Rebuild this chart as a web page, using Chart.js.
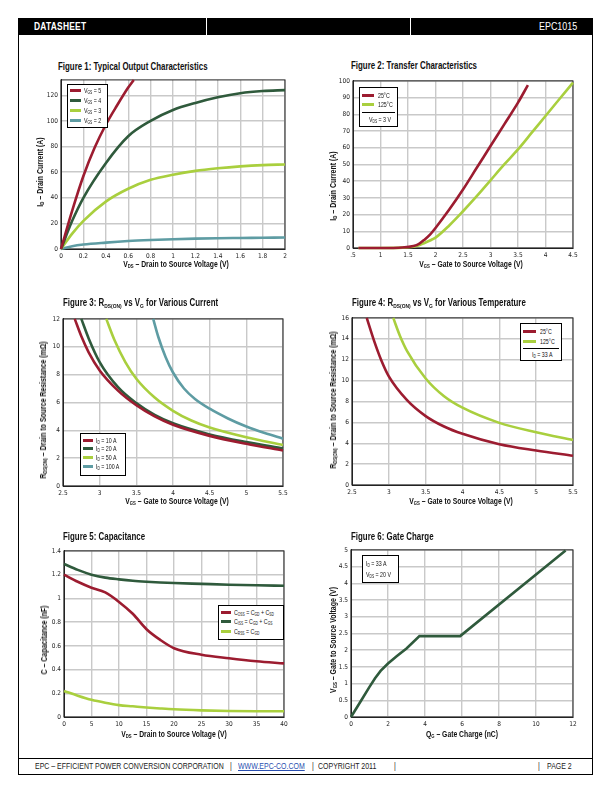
<!DOCTYPE html>
<html><head><meta charset="utf-8">
<script src="https://cdn.jsdelivr.net/npm/chart.js@4.4.1/dist/chart.umd.min.js"></script>
<style>
body{margin:0;width:612px;height:792px;position:relative;background:#fff;font-family:"Liberation Sans",Arial,sans-serif;color:#111;overflow:hidden}
.a{position:absolute}
.ttl{font-weight:bold;font-size:10px;white-space:nowrap;line-height:12px;transform:scaleX(0.79);transform-origin:0 0}
.axt{font-weight:bold;font-size:8.5px;white-space:nowrap;line-height:10px}
.axy{transform:translate(-50%,-50%) rotate(-90deg) scaleX(0.82)}
.axx{transform:translate(-50%,-50%) scaleX(0.8)}
sub{font-size:0.62em;vertical-align:-0.25em;line-height:0}
.lg{position:absolute;border:1px solid #000;background:#fff;box-sizing:border-box;font-size:8px;white-space:nowrap}
.row{position:absolute;display:flex;align-items:center;height:9px;line-height:9px}
.sw{display:inline-block;height:3px;flex:none}
.lt{display:inline-block;transform:scaleX(0.66);transform-origin:0 50%}
.sep{position:absolute;height:0;border-top:1px solid #000}
.foot{font-size:9.2px;white-space:nowrap;line-height:10px;color:#222;transform:scaleX(0.76);transform-origin:0 0}
</style></head>
<body>
<div class="a" style="left:18px;top:18px;width:575px;height:17px;background:#000"></div>
<div class="a" style="left:206px;top:18px;width:1px;height:17px;background:#fff"></div>
<div class="a" style="left:410px;top:18px;width:1px;height:17px;background:#fff"></div>
<div class="a" style="left:34px;top:20px;color:#fff;font-weight:bold;font-size:10.5px;line-height:13px;letter-spacing:0.3px;transform:scaleX(0.8);transform-origin:0 0">DATASHEET</div>
<div class="a" style="left:539px;top:20px;color:#fff;font-size:10.5px;line-height:13px;transform:scaleX(0.85);transform-origin:0 0">EPC1015</div>
<div class="a" style="left:18px;top:35px;width:1px;height:740px;background:#000"></div>
<div class="a" style="left:592px;top:35px;width:1px;height:740px;background:#000"></div>
<div class="a" style="left:18px;top:758px;width:575px;height:1px;background:#000"></div>
<div class="a" style="left:18px;top:774px;width:575px;height:1px;background:#000"></div>
<div class="a foot" style="left:35px;top:761px">EPC – EFFICIENT POWER CONVERSION CORPORATION</div>
<div class="a foot" style="left:230px;top:761px">|</div>
<div class="a foot" style="left:238px;top:761px;color:#2a4fb0;text-decoration:underline">WWW.EPC-CO.COM</div>
<div class="a foot" style="left:312px;top:761px">|</div>
<div class="a foot" style="left:318px;top:761px">COPYRIGHT 2011</div>
<div class="a foot" style="left:394px;top:761px">|</div>
<div class="a foot" style="left:538px;top:761px">|</div>
<div class="a foot" style="left:547px;top:761px">PAGE 2</div>

<script>
// ---------- DATA ----------
// Figure 1: Typical Output Characteristics
const fig1Names = ['V<sub>GS</sub> = 5','V<sub>GS</sub> = 4','V<sub>GS</sub> = 3','V<sub>GS</sub> = 2'];
const fig1VdsShort = [0,0.1,0.2,0.3,0.4,0.5,0.6,0.65];
const fig1Vgs5 = [0,30,57,79,97,112,126,132];
const fig1Vds = [0,0.1,0.2,0.4,0.6,0.8,1.0,1.2,1.4,1.6,1.8,2.0];
const fig1Vgs4 = [0,22,40,67,88,100,108.5,114,118.4,121.6,123.3,124];
const fig1Vgs3 = [0,12,22,37,47,54,58,61,63,64.5,65.5,66];
const fig1Vgs2 = [0,2.2,3.5,5,6.2,7,7.6,8.1,8.4,8.6,8.8,9];

// Figure 2: Transfer Characteristics
const fig2Names = ['25°C','125°C'];
const fig2Vgs25 = [0.6,1.0,1.4,1.6,1.7,1.8,1.9,2.0,2.25,2.5,2.75,3.0,3.25,3.5,3.68];
const fig2Id25 = [0,0,0.3,1.2,2.5,5,8,12,23,35,48,61,74,87,97.5];
const fig2Vgs125 = [0.6,1.0,1.4,1.6,1.7,1.8,1.9,2.0,2.25,2.5,2.75,3.0,3.25,3.5,3.75,4.0,4.25,4.5];
const fig2Id125 = [0,0,0.2,0.8,1.6,3,4.5,6.2,13.5,22,31,40.5,50,59,69,79,89,99];

// Figure 3: RDS(on) vs VG for various current
const fig3Names = ['I<sub>D</sub> = 10 A','I<sub>D</sub> = 20 A','I<sub>D</sub> = 50 A','I<sub>D</sub> = 100 A'];
const fig3Vg10 = [2.66,2.75,2.85,3.0,3.25,3.5,3.75,4.0,4.5,5.0,5.5];
const fig3R10 = [12,10.75,9.6,8.3,6.85,5.8,5.0,4.4,3.6,3.03,2.55];
const fig3Vg20 = [2.75,2.85,3.0,3.25,3.5,3.75,4.0,4.5,5.0,5.5];
const fig3R20 = [12,10.6,8.9,7.1,5.95,5.1,4.5,3.7,3.15,2.7];
const fig3Vg50 = [3.09,3.2,3.35,3.5,3.75,4.0,4.25,4.5,5.0,5.5];
const fig3R50 = [12,10.5,8.9,7.7,6.35,5.4,4.7,4.2,3.5,2.95];
const fig3Vg100 = [3.73,3.8,3.9,4.0,4.15,4.3,4.5,4.75,5.0,5.25,5.5];
const fig3R100 = [12,10.7,9.25,8.15,7.0,6.25,5.55,4.85,4.27,3.8,3.4];

// Figure 4: RDS(on) vs VG for various temperature
const fig4Names = ['25°C','125°C'];
const fig4Vg25 = [2.7,2.8,2.9,3.0,3.25,3.5,3.75,4.0,4.5,5.0,5.5];
const fig4R25 = [16,13.8,11.9,10.4,8.1,6.6,5.6,4.9,3.9,3.3,2.8];
const fig4Vg125 = [3.06,3.15,3.25,3.5,3.75,4.0,4.5,5.0,5.5];
const fig4R125 = [16,14.3,12.8,10.2,8.5,7.4,5.95,5.05,4.3];

// Figure 5: Capacitance
const fig5Names = ['C<sub>OSS</sub> = C<sub>GD</sub> + C<sub>SD</sub>','C<sub>ISS</sub> = C<sub>GD</sub> + C<sub>GS</sub>','C<sub>RSS</sub> = C<sub>GD</sub>'];
const fig5Vds = [0,2.5,5,7.5,10,12.5,15,17.5,20,25,30,35,40];
const fig5Coss = [1.2,1.14,1.09,1.05,0.97,0.87,0.74,0.65,0.58,0.525,0.495,0.47,0.452];
const fig5Ciss = [1.29,1.24,1.2,1.175,1.16,1.148,1.14,1.134,1.129,1.122,1.115,1.11,1.106];
const fig5Crss = [0.22,0.18,0.145,0.12,0.1,0.09,0.08,0.072,0.065,0.056,0.05,0.048,0.048];

// Figure 6: Gate Charge
const fig6Qg = [0,0.5,1.0,1.3,1.6,2.0,2.5,3.0,3.7,5.9,11.6];
const fig6Vgs = [0,0.45,0.9,1.16,1.38,1.6,1.83,2.05,2.42,2.42,4.98];

// Legend notes
const fig2Note = 'V<sub>DS</sub> = 3 V';
const fig4Note = 'I<sub>D</sub> = 33 A';
const fig6Notes = ['I<sub>D</sub> = 33 A','V<sub>DS</sub> = 20 V'];

// ---------- STYLE ----------
const RED='#9c1c30', DKG='#2f5a3c', LIME='#a9cf3e', TEAL='#5e9ca3';
const FONT = {family:'"DejaVu Sans Condensed","Liberation Sans",sans-serif', size:6.5};

const pts = (xs, ys) => xs.map((x,i)=>({x, y:ys[i]}));
const ds = (xs, ys, color, mono=true) => ({data:pts(xs,ys), borderColor:color, borderWidth:2.6, pointRadius:0, fill:false,
  cubicInterpolationMode: mono?'monotone':'default', tension:0, clip:3});

const framePlugin = {id:'frame', beforeDatasetsDraw(chart){
  const a=chart.chartArea, c=chart.ctx; c.save(); c.strokeStyle='#222'; c.lineWidth=1;
  c.strokeRect(a.left, a.top, a.right-a.left, a.bottom-a.top); c.restore();}};

function axis(o, isX){
  return {type:'linear', min:o.min, max:o.max,
    ticks:{stepSize:o.step, font:FONT, color:'#222', padding:3, maxRotation:0, autoSkip:false,
      callback:o.cb || ((v)=>String(+v.toFixed(2)))},
    afterBuildTicks:(s)=>{ s.ticks = s.ticks.filter(t => Math.abs(t.value/o.step - Math.round(t.value/o.step))<1e-6); },
    grid:{color:'#c9c9c9', lineWidth:1.4, drawTicks:false},
    border:{display:true, color:'#222', width:1},
    afterFit:(s)=>{ if(isX) s.height=16; else s.width=30; }};
}

function makeChart(p, datasets, xo, yo){
  const w = p.R - p.L + 38, h = p.B - p.T + 22;
  const c = document.createElement('canvas');
  c.width=w; c.height=h;
  c.style.cssText = `position:absolute;left:${p.L-30}px;top:${p.T-6}px;width:${w}px;height:${h}px`;
  document.body.appendChild(c);
  new Chart(c, {type:'line', data:{datasets},
    options:{responsive:false, animation:false, devicePixelRatio:1,
      layout:{padding:{top:6,right:8,left:0,bottom:0}},
      plugins:{legend:{display:false}, tooltip:{enabled:false}},
      scales:{x:axis(xo,true), y:axis(yo,false)}},
    plugins:[framePlugin]});
}

function addText(html, cls, x, y){
  const d=document.createElement('div'); d.className='a '+cls; d.innerHTML=html;
  d.style.left=x+'px'; d.style.top=y+'px'; document.body.appendChild(d); return d;
}
function legend(box, rows){
  const d=document.createElement('div'); d.className='lg';
  d.style.cssText += `left:${box.x}px;top:${box.y}px;width:${box.w}px;height:${box.h}px`;
  rows.forEach(r=>{
    if(r.sep){ const s=document.createElement('div'); s.className='sep';
      s.style.cssText += `left:2px;right:2px;top:${r.y}px`; d.appendChild(s); return; }
    const e=document.createElement('div'); e.className='row';
    e.style.top=(r.y-4.5)+'px'; e.style.left=(r.x||2)+'px';
    if(r.color){ const s=document.createElement('span'); s.className='sw';
      s.style.cssText += `width:${r.sw}px;background:${r.color};margin-right:${r.gap}px`; e.appendChild(s);}
    const t=document.createElement('span'); t.className='lt'; t.innerHTML=r.text; e.appendChild(t);
    d.appendChild(e);
  });
  document.body.appendChild(d);
}

// ---------- FIGURE 1 ----------
const P1={L:61,R:285,T:79,B:249};
makeChart(P1,[ds(fig1VdsShort,fig1Vgs5,RED),ds(fig1Vds,fig1Vgs4,DKG),ds(fig1Vds,fig1Vgs3,LIME),ds(fig1Vds,fig1Vgs2,TEAL)],
  {min:0,max:2,step:0.2},{min:0,max:132,step:20});
addText('Figure 1: Typical Output Characteristics','ttl',58,61);
addText('I<sub>D</sub> – Drain Current (A)','axt axy',40,172);
addText('V<sub>DS</sub> – Drain to Source Voltage (V)','axt axx',176,264);
legend({x:67,y:84,w:41,h:44},[RED,DKG,LIME,TEAL].map((c,i)=>({y:5+i*10,color:c,sw:11,gap:3,text:fig1Names[i]})));

// ---------- FIGURE 2 ----------
const P2={L:353,R:573,T:80,B:248};
makeChart(P2,[ds(fig2Vgs25,fig2Id25,RED),ds(fig2Vgs125,fig2Id125,LIME)],
  {min:0.5,max:4.5,step:0.5,cb:(v)=>v===0.5?'.5':String(v)},{min:0,max:100,step:10});
addText('Figure 2: Transfer Characteristics','ttl',351,60);
addText('I<sub>D</sub> – Drain Current (A)','axt axy',333,186);
addText('V<sub>GS</sub> – Gate to Source Voltage (V)','axt axx',471,264);
legend({x:359,y:87,w:39,h:40},[
  {y:7,color:RED,sw:12,gap:4,text:fig2Names[0]},
  {y:16.5,color:LIME,sw:12,gap:4,text:fig2Names[1]},
  {sep:true,y:24},
  {y:31,x:9,text:fig2Note}]);

// ---------- FIGURE 3 ----------
const P3={L:63,R:283,T:318,B:486};
makeChart(P3,[ds(fig3Vg10,fig3R10,RED),ds(fig3Vg20,fig3R20,DKG),ds(fig3Vg50,fig3R50,LIME),ds(fig3Vg100,fig3R100,TEAL)],
  {min:2.5,max:5.5,step:0.5},{min:0,max:12,step:2});
addText('Figure 3: R<sub>DS(ON)</sub> vs V<sub>G</sub> for Various Current','ttl',63,297);
addText('R<sub>DS(ON)</sub> – Drain to Source Resistance (mΩ)','axt axy',43,410);
addText('V<sub>GS</sub> – Gate to Source Voltage (V)','axt axx',177,501);
legend({x:80,y:433,w:46,h:43},[RED,DKG,LIME,TEAL].map((c,i)=>({y:6+i*8.8,color:c,sw:10,gap:3,text:fig3Names[i]})));

// ---------- FIGURE 4 ----------
const P4={L:352,R:573,T:317,B:485};
makeChart(P4,[ds(fig4Vg25,fig4R25,RED),ds(fig4Vg125,fig4R125,LIME)],
  {min:2.5,max:5.5,step:0.5},{min:0,max:16,step:2});
addText('Figure 4: R<sub>DS(ON)</sub> vs V<sub>G</sub> for Various Temperature','ttl',352,297);
addText('R<sub>DS(ON)</sub> – Drain to Source Resistance (mΩ)','axt axy',333,400);
addText('V<sub>GS</sub> – Gate to Source Voltage (V)','axt axx',461,501);
legend({x:520,y:323,w:42,h:38},[
  {y:7,color:RED,sw:13,gap:4,text:fig4Names[0]},
  {y:17,color:LIME,sw:13,gap:4,text:fig4Names[1]},
  {sep:true,y:23.5},
  {y:30,x:11,text:fig4Note}]);

// ---------- FIGURE 5 ----------
const P5={L:64,R:284,T:550,B:717};
makeChart(P5,[ds(fig5Vds,fig5Coss,RED),ds(fig5Vds,fig5Ciss,DKG),ds(fig5Vds,fig5Crss,LIME)],
  {min:0,max:40,step:5},{min:0,max:1.4,step:0.2});
addText('Figure 5: Capacitance','ttl',63,531);
addText('C – Capacitance (nF)','axt axy',44,640);
addText('V<sub>DS</sub> – Drain to Source Voltage (V)','axt axx',174,734);
legend({x:218,y:605,w:66,h:35},[RED,DKG,LIME].map((c,i)=>({y:6+i*9.7,color:c,sw:10,gap:3,text:fig5Names[i]})));

// ---------- FIGURE 6 ----------
const P6={L:351,R:573,T:549,B:717};
makeChart(P6,[ds(fig6Qg,fig6Vgs,DKG,false)],
  {min:0,max:12,step:2},{min:0,max:5,step:0.5});
addText('Figure 6: Gate Charge','ttl',351,531);
addText('V<sub>GS</sub> – Gate to Source Voltage (V)','axt axy',333,640);
addText('Q<sub>G</sub> – Gate Charge (nC)','axt axx',462,734);
legend({x:362,y:555,w:37,h:28},fig6Notes.map((t,i)=>({y:7+i*11,x:3,text:t})));
</script>
</body></html>
